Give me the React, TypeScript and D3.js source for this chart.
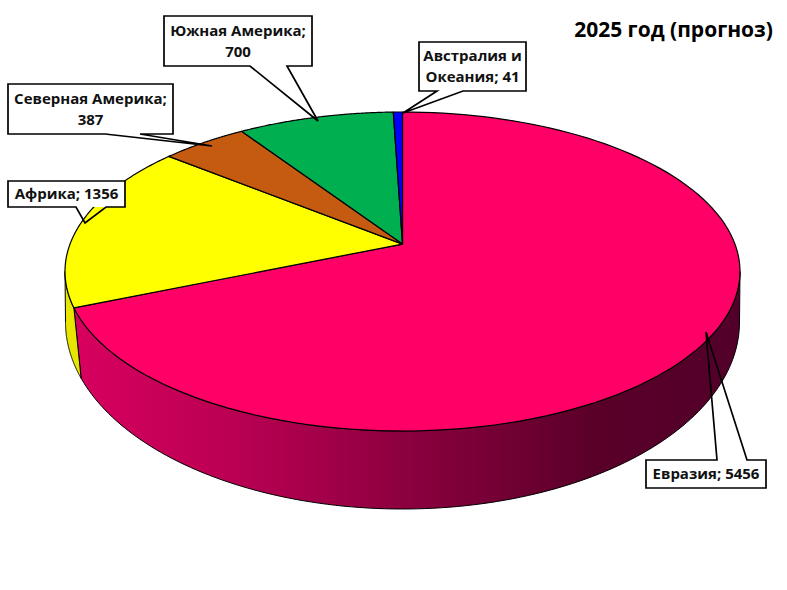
import React from "react";
import * as d3 from "d3";

const categories = ["Евразия", "Африка", "Северная Америка", "Южная Америка", "Австралия и Океания"];
const values = [5456, 1356, 387, 700, 41];
const sliceColors = ["#ff0066", "#ffff00", "#c55a11", "#00b050", "#0000ff"];
const labelLines = [["Евразия; 5456"], ["Африка; 1356"], ["Северная Америка;", "387"], ["Южная Америка;", "700"], ["Австралия и", "Океания; 41"]];
const titleText = "2025 год (прогноз)";

// callout geometry: box [x0,y0,x1,y1], pointer base xs and tip
const boxes = [[646, 460, 766, 488], [8, 181, 125, 207], [8, 84, 173, 134], [164, 16, 312, 66], [419, 42, 526, 91]];
const pointers = [[717, 747, 706, 332, "top"], [76, 106, 85, 223, "bottom"], [105, 140, 212, 146, "bottom"], [250, 287, 318, 121, "bottom"], [437, 463, 403, 113, "bottom"]] as const;

const top = { cx: 402.5, cy: 271.5, rx: 337.5, ry: 159.5, e: 0.172 };
const bot = { cx: 402.5, cy: 322, rx: 337, ry: 187, e: 0.095 };
type Ell = typeof top;

// project a pie angle (clockwise from 12 o'clock) on to an ellipse with perspective
const pt = (el: Ell, t: number): [number, number] => {
  const c = Math.cos(t), s = Math.sin(t), d = 1 + el.e * c;
  return [el.cx + el.rx * Math.sqrt(1 - el.e * el.e) * s / d, el.cy - el.ry * (c + el.e) / d];
};
const apex = (el: Ell): [number, number] => [el.cx, el.cy - el.e * el.ry];
// angle on pie whose projection is at ellipse parameter phi
const fromPhi = (el: Ell, phi: number) => {
  const c = Math.cos(phi), s = Math.sin(phi), d = 1 - el.e * c;
  return Math.atan2(Math.sqrt(1 - el.e * el.e) * s / d, (c - el.e) / d);
};
const norm = (a: number) => (a < 0 ? a + 2 * Math.PI : a);
const arcPts = (el: Ell, a: number, b: number) => d3.range(0, 121).map((i) => pt(el, a + ((b - a) * i) / 120));
const line = d3.line<[number, number]>();

export default function App() {
  const pie = d3.pie<number>().sort(null).value((d) => d)(values);
  const rightT = fromPhi(top, Math.PI / 2);
  const leftT = norm(fromPhi(top, -Math.PI / 2));
  const rightB = fromPhi(bot, Math.PI / 2);
  const leftB = norm(fromPhi(bot, -Math.PI / 2));
  const boundary = pie[0].endAngle;

  const pinkSide = line([...arcPts(top, rightT, boundary), ...arcPts(bot, rightB, boundary).reverse()]) + "Z";
  const yellowSide = line([...arcPts(top, boundary, leftT), ...arcPts(bot, boundary, leftB).reverse()]) + "Z";

  return (
    <svg width={787} height={590} style={{ position: "absolute", left: 0, top: 0, background: "#fff" }} fontFamily="'Open Sans', 'Noto Sans', sans-serif" fontWeight={700}>
      <defs>
        <linearGradient id="pinkG" gradientUnits="userSpaceOnUse" x1={75} x2={740} y1={0} y2={0}>
          <stop offset="0" stopColor="#d8005f" />
          <stop offset="0.25" stopColor="#b80052" />
          <stop offset="0.5" stopColor="#8c003f" />
          <stop offset="0.78" stopColor="#5a0028" />
          <stop offset="1" stopColor="#52002a" />
        </linearGradient>
      </defs>
      <path d={pinkSide} fill="url(#pinkG)" stroke="#000" strokeWidth={1} />
      <path d={yellowSide} fill="#e6e600" stroke="#000" strokeWidth={1} />
      {pie.map((s, i) => (
        <path key={categories[i]} d={line([apex(top), ...arcPts(top, s.startAngle, s.endAngle)]) + "Z"} fill={sliceColors[i]} stroke="#000" strokeWidth={1.2} strokeLinejoin="round" />
      ))}
      {boxes.map((b, i) => {
        const [x0, y0, x1, y1] = b;
        const [p0, p1, tx, ty, side] = pointers[i];
        const d = side === "top"
          ? `M${p0},${y0}L${x0},${y0}L${x0},${y1}L${x1},${y1}L${x1},${y0}L${p1},${y0}L${tx},${ty}Z`
          : `M${p0},${y1}L${x0},${y1}L${x0},${y0}L${x1},${y0}L${x1},${y1}L${p1},${y1}L${tx},${ty}Z`;
        const lines = labelLines[i];
        const mid = (y0 + y1) / 2;
        return (
          <g key={categories[i]}>
            <rect x={x0} y={y0} width={x1 - x0} height={y1 - y0} fill="#fff" />
            <path d={d} fill="none" stroke="#000" strokeWidth={1.7} strokeLinejoin="miter" />
            {lines.map((l, j) => (
              <text key={l} x={(x0 + x1) / 2} y={mid + (j - (lines.length - 1) / 2) * 21 + 5} textAnchor="middle" fontSize={15} fill="#111">{l}</text>
            ))}
          </g>
        );
      })}
      <text x={673.5} y={37} textAnchor="middle" fontSize={21} fill="#000">{titleText}</text>
    </svg>
  );
}
